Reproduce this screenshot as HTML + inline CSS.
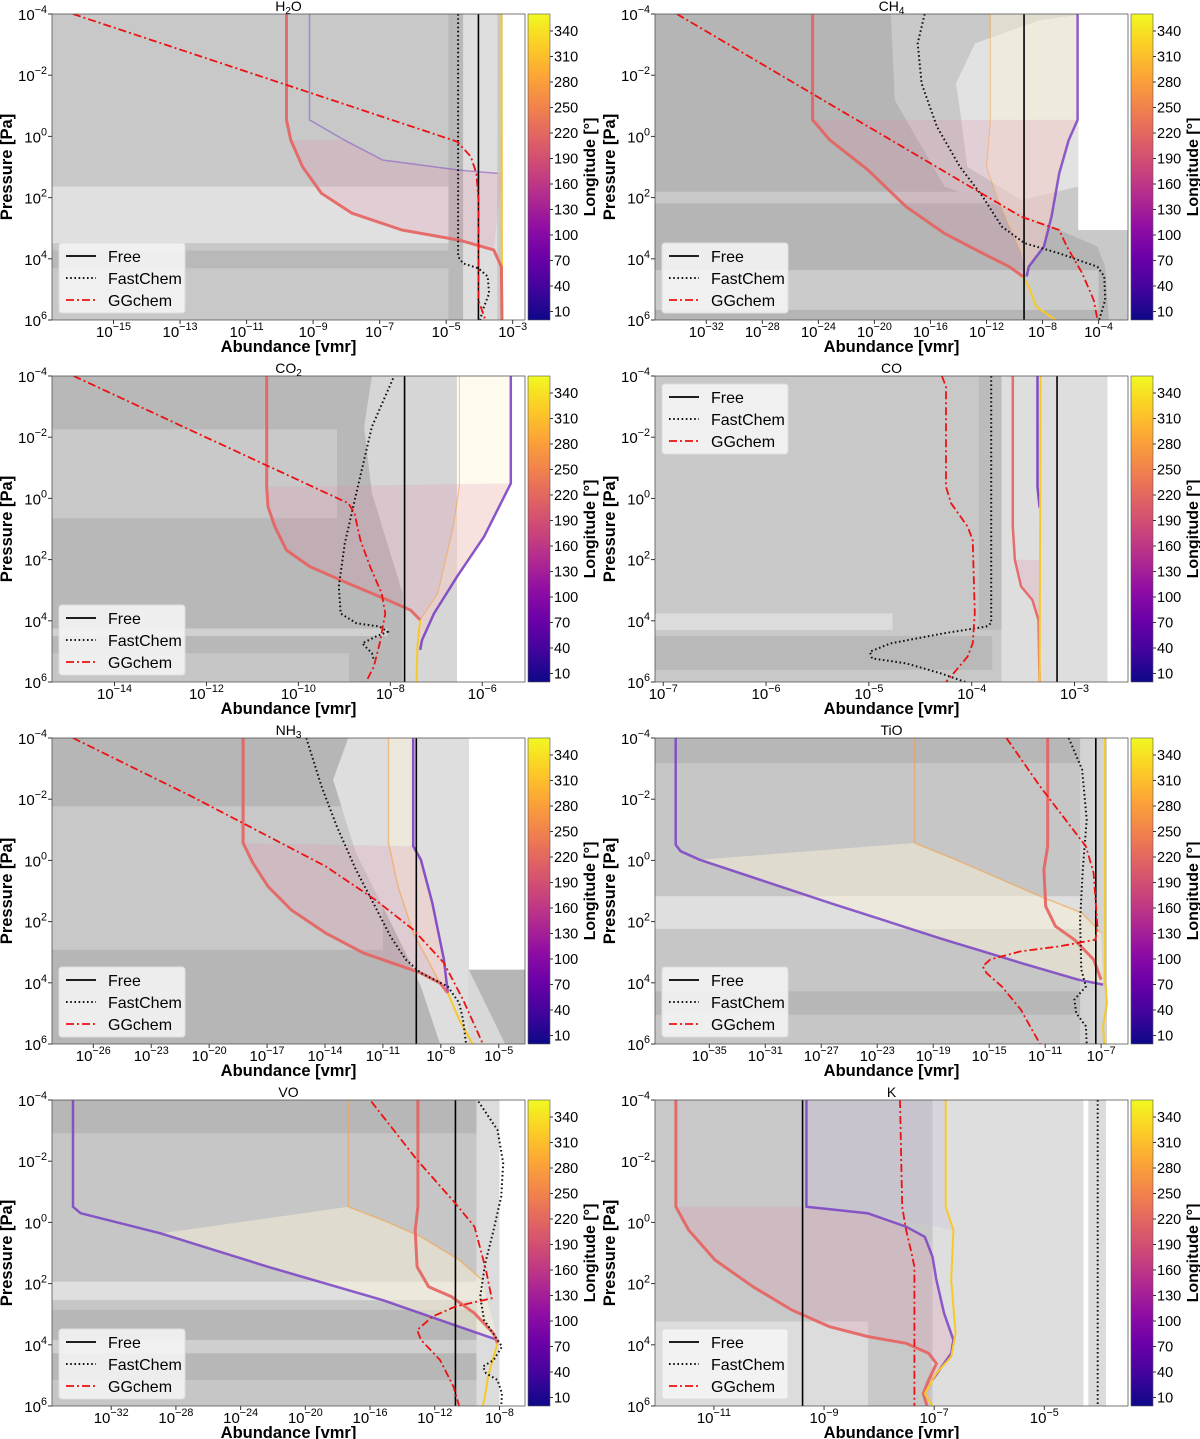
<!DOCTYPE html>
<html><head><meta charset="utf-8"><style>
html,body{margin:0;padding:0;background:#fff;}
svg{display:block;font-family:"Liberation Sans","DejaVu Sans",sans-serif;}
</style></head><body>
<svg id="fig" xmlns="http://www.w3.org/2000/svg" width="1200" height="1439" viewBox="0 0 1200 1439">
<defs>
<linearGradient id="plasma" x1="0" y1="1" x2="0" y2="0">
<stop offset="0" stop-color="#0d0887"/><stop offset="0.1" stop-color="#41049d"/><stop offset="0.2" stop-color="#6a00a8"/><stop offset="0.3" stop-color="#8f0da4"/><stop offset="0.4" stop-color="#b12a90"/><stop offset="0.5" stop-color="#cc4778"/><stop offset="0.6" stop-color="#e16462"/><stop offset="0.7" stop-color="#f2844b"/><stop offset="0.8" stop-color="#fca636"/><stop offset="0.9" stop-color="#fcce25"/><stop offset="1" stop-color="#f0f921"/>
</linearGradient>
</defs>
</svg>
<script>
// ---------- data (log10 abundance, log10 pressure) ----------
const cbTicks = [10,40,70,100,130,160,190,220,250,280,310,340];
const yTicks = [-4,-2,0,2,4,6];

const h2oTicks = [-15,-13,-11,-9,-7,-5,-3];
const h2oFree = -4.03;
const h2oFast = [[-4.64,-4],[-4.64,3.93],[-4.49,4.15],[-4.03,4.31],[-3.75,4.58],[-3.71,5.13],[-3.9,5.67],[-3.98,6]];
const h2oGG = [[-16.22,-4],[-4.67,0.17],[-4.26,0.66],[-4.09,1.21],[-4.03,2.08],[-4.03,5.35],[-3.82,6]];
const h2oPink = [[-9.8,-4],[-9.8,-0.54],[-9.67,0.12],[-9.32,0.99],[-8.75,1.86],[-7.83,2.51],[-6.33,3.06],[-4.61,3.39],[-3.57,3.71],[-3.34,4.26],[-3.32,6]];
const h2oPurple = [[-9.11,-4],[-9.11,-0.54],[-8.06,0.12],[-6.91,0.77],[-4.61,1.1],[-3.45,1.21]];
const h2oYellow = [[-3.34,-4],[-3.32,6]];

const ch4Ticks = [-32,-28,-24,-20,-16,-12,-8,-4];
const ch4Free = -9.32;
const ch4Fast = [[-16.42,-4],[-16.91,-3.04],[-16.63,-1.73],[-15.54,-0.32],[-13.9,0.99],[-12.27,1.97],[-10.9,2.95],[-9.27,3.49],[-6.81,3.82],[-4.08,4.26],[-3.59,4.58],[-3.53,5.35],[-3.96,6]];
const ch4GG = [[-34.1,-4],[-9.54,2.62],[-6.81,3.06],[-6.26,3.6],[-5.17,4.47],[-4.35,5.35],[-4.08,6]];
const ch4Pink = [[-24.41,-4],[-24.41,-0.54],[-23.18,0.12],[-20.45,1.1],[-17.73,2.3],[-15.0,3.17],[-12.27,3.82],[-10.36,4.26],[-9.4,4.58]];
const ch4Yellow = [[-9.4,4.58],[-8.99,4.91],[-8.45,5.56],[-7.08,6]];
const ch4Purple = [[-5.5,-4],[-5.5,-0.54],[-6.13,0.12],[-6.81,1.21],[-7.36,2.62],[-7.9,3.6],[-8.99,4.26],[-9.13,4.58]];
const ch4Orange = [[-11.72,-4],[-11.72,-0.54],[-12.0,0.99],[-11.18,2.08],[-9.54,3.82]];

const co2Ticks = [-14,-12,-10,-8,-6];
const co2Free = -7.69;
const co2Fast = [[-7.94,-3.92],[-8.4,-2.34],[-8.74,-0.17],[-8.99,1.47],[-9.12,2.88],[-9.08,3.76],[-8.74,4.08],[-8.23,4.19],[-8.06,4.36],[-8.32,4.52],[-8.61,4.74],[-8.4,5.06],[-8.36,5.28]];
const co2GG = [[-14.89,-4],[-8.91,0.16],[-8.78,0.49],[-8.65,1.36],[-8.44,2.23],[-8.19,3.1],[-8.11,3.76],[-8.23,4.74],[-8.36,5.5],[-8.53,6]];
const co2Pink = [[-10.69,-4],[-10.69,-0.38],[-10.66,0.27],[-10.51,0.92],[-10.26,1.69],[-9.75,2.23],[-8.91,2.78],[-8.06,3.32],[-7.56,3.65],[-7.35,3.97]];
const co2Yellow = [[-6.5,-4],[-6.5,-0.38],[-6.63,0.92],[-6.97,3.1],[-7.35,3.97],[-7.41,4.85],[-7.43,6]];
const co2Purple = [[-5.38,-4],[-5.38,-0.49],[-5.96,1.25],[-6.55,2.56],[-7.05,3.76],[-7.31,4.63],[-7.35,4.95]];

const coTicks = [-7,-6,-5,-4,-3];
const coFree = -3.17;
const coFast = [[-3.81,-4],[-3.81,4.08],[-3.86,4.19],[-4.27,4.41],[-4.79,4.74],[-4.99,5.01],[-4.97,5.23],[-4.64,5.39],[-4.3,5.72],[-4.06,6]];
const coGG = [[-4.29,-4],[-4.25,-3.65],[-4.25,-0.38],[-4.2,0.16],[-4.04,0.92],[-3.99,1.36],[-3.97,3.76],[-3.99,4.74],[-4.04,5.17],[-4.15,5.61],[-4.25,6]];
const coPink = [[-3.6,-4],[-3.6,0.92],[-3.58,2.01],[-3.52,2.88],[-3.41,3.32],[-3.35,3.97],[-3.34,6]];
const coPurple = [[-3.36,-4],[-3.36,-0.38],[-3.34,0.3]];
const coYellow = [[-3.33,-4],[-3.34,6]];

const nh3Ticks = [-26,-23,-20,-17,-14,-11,-8,-5];
const nh3Free = -9.27;
const nh3Fast = [[-14.97,-4],[-14.18,-2.42],[-13.39,-1.11],[-12.4,0.3],[-11.41,1.5],[-10.61,2.48],[-9.82,3.24],[-9.03,3.68],[-7.64,4.12],[-7.05,4.66],[-6.85,5.2],[-6.69,6]];
const nh3GG = [[-27.05,-4],[-20.91,-2.09],[-16.95,-0.79],[-13.98,0.19],[-11.41,1.28],[-9.43,2.26],[-7.84,3.35],[-6.85,4.55],[-5.82,6]];
const nh3Pink = [[-18.24,-4],[-18.24,-0.57],[-17.74,0.08],[-16.95,0.85],[-15.76,1.61],[-13.98,2.37],[-12.0,3.03],[-10.02,3.46],[-9.03,3.68],[-8.04,4.01],[-7.64,4.33]];
const nh3Yellow = [[-7.64,4.33],[-7.05,5.2],[-6.36,6]];
const nh3Purple = [[-9.43,-4],[-9.43,-0.46],[-9.03,-0.02],[-8.44,1.39],[-7.84,3.24],[-7.64,4.33]];
const nh3Orange = [[-10.71,-4],[-10.71,-0.57],[-10.22,0.85],[-9.43,2.37],[-8.04,4.01]];

const tioTicks = [-35,-31,-27,-23,-19,-15,-11,-7];
const tioFree = -7.38;
const tioFast = [[-9.32,-4],[-8.36,-2.97],[-8.03,-1.33],[-8.31,0.3],[-8.5,1.94],[-8.42,3.57],[-8.09,4.12],[-8.91,4.55],[-8.78,4.99],[-8.09,5.42],[-8.03,6]];
const tioGG = [[-13.77,-4],[-11.37,-2.42],[-9.18,-1.11],[-8.09,-0.46],[-7.54,0.41],[-7.27,2.15],[-7.41,2.59],[-10.0,2.81],[-12.73,2.97],[-14.92,3.24],[-15.46,3.46],[-15.19,3.68],[-14.1,4.12],[-12.73,4.88],[-11.37,6]];
const tioPurple = [[-37.4,-4],[-37.4,-0.51],[-37.05,-0.3],[-35.68,-0.02],[-26.39,1.39],[-18.2,2.59],[-12.73,3.35],[-8.63,3.9],[-6.86,4.06]];
const tioOrange = [[-20.33,-4],[-20.33,-0.57],[-17.38,-0.02],[-14.1,0.63],[-11.37,1.17],[-8.36,1.72],[-7.0,2.37]];
const tioPink = [[-10.82,-4],[-10.82,-0.46],[-11.09,0.3],[-10.96,1.5],[-10.27,2.15],[-8.91,2.59],[-7.54,3.24],[-7.0,3.9]];
const tioYellow = [[-6.72,-4],[-6.72,3.9],[-6.58,4.66],[-6.86,5.42],[-6.78,6]];

const voTicks = [-32,-28,-24,-20,-16,-12,-8];
const voFree = -10.72;
const voFast = [[-9.3,-3.95],[-8.12,-3.02],[-7.77,-1.93],[-7.89,-0.84],[-8.36,0.25],[-8.88,1.34],[-9.19,2.43],[-8.95,3.19],[-8.12,3.84],[-7.84,4.06],[-8.36,4.5],[-9.02,4.71],[-8.83,4.93],[-8.12,5.15],[-7.84,5.59],[-7.89,6]];
const voGG = [[-15.92,-3.95],[-13.09,-2.04],[-10.72,-0.62],[-9.54,0.14],[-8.83,1.56],[-8.48,2.48],[-10.72,2.75],[-12.14,3.08],[-13.09,3.52],[-12.85,3.84],[-11.67,4.5],[-10.84,5.37],[-10.49,6]];
const voPurple = [[-34.36,-4],[-34.36,-0.51],[-33.89,-0.3],[-28.93,0.36],[-22.31,1.45],[-15.22,2.54],[-10.49,3.41],[-8.12,3.84]];
const voOrange = [[-17.34,-4],[-17.34,-0.51],[-15.22,-0.08],[-12.85,0.47],[-10.49,1.23],[-9.07,1.88]];
const voPink = [[-13.04,-4],[-13.04,-0.51],[-13.21,0.25],[-13.09,1.45],[-12.38,2.1],[-10.96,2.43],[-9.54,2.97],[-8.36,3.63],[-8.12,3.95]];
const voYellow = [[-8.12,3.95],[-8.36,4.39],[-8.71,5.04],[-8.83,5.48],[-9.02,6]];

const kTicks = [-11,-9,-7,-5];
const kFree = -9.39;
const kFast = [[-4.03,-4],[-4.03,6]];
const kGG = [[-7.62,-4],[-7.58,-0.51],[-7.51,0.25],[-7.41,1.01],[-7.36,1.45],[-7.36,6]];
const kPink = [[-11.69,-4],[-11.69,-0.51],[-11.46,0.25],[-10.98,1.23],[-10.29,2.1],[-9.59,2.86],[-8.9,3.41],[-8.21,3.73],[-7.51,3.95],[-7.1,4.28],[-6.96,4.61],[-7.1,5.15],[-7.2,5.59],[-7.13,6]];
const kPurple = [[-9.32,-4],[-9.32,-0.51],[-8.21,-0.3],[-7.51,0.14],[-7.17,0.47],[-7.03,1.12],[-6.96,1.88],[-6.82,2.97],[-6.65,3.84],[-6.69,4.28],[-6.86,4.71],[-7.03,5.15]];
const kYellow = [[-6.79,-4],[-6.79,-0.51],[-6.65,0.25],[-6.69,1.88],[-6.61,3.62],[-6.69,4.39],[-6.96,4.93],[-7.17,5.59],[-7.03,6]];

// ---------- layout & style ----------
const NS = 'http://www.w3.org/2000/svg';
const svg = document.getElementById('fig');
const COLX = [52, 655], PW = 473, PH = 306, ROWY = [14, 376, 738, 1100];
const C = {pink:'#e5625f', purple:'#7438c4', yellow:'#f7c928', orange:'#f4a24a'};
const LP = 'rgba(228,140,175,0.22)', CR = 'rgba(252,244,214,0.45)';

function rev(a){return a.slice().reverse();}
const panels = [
 {name:'h2o', title:['H','2','O'], col:0,row:0, xr:[-16.85,-2.63], ticks:h2oTicks, free:h2oFree, fast:h2oFast, gg:h2oGG, legTop:false, base:'#c8c8c8',
  bg:[[-99,-4.84,1.64,3.49,'#e0e0e0'],[-99,-4.9,3.73,4.31,'#b9b9b9'],[-4.93,-4.49,-4,6,'#b9b9b9'],[-4.49,-3.46,-4,6,'#dedede'],[-3.3,99,-4,6,'#ffffff']],
  fills:[[h2oPink.slice(2,9).concat([[-3.3,1.2],[-4.61,1.1],[-6.91,0.77],[-8.06,0.12]]),LP]],
  lines:[[h2oPurple,C.purple,1.5,0.45],[h2oYellow,C.yellow,2,1],[h2oPink,C.pink,3,0.9]]},
 {name:'ch4', title:['CH','4',''], col:1,row:0, xr:[-35.66,-1.9], ticks:ch4Ticks, free:ch4Free, fast:ch4Fast, gg:ch4GG, legTop:false, base:'#b5b5b5',
  bg:[[-99,-9,1.81,2.19,'#c8c8c8'],[-99,-4,4.37,5.67,'#cbcbcb']],
  polys:[[[[-18.82,-4],[-1.9,-4],[-1.9,6],[-3.26,6],[-3.53,4.26],[-4.08,3.6],[-9.54,2.51],[-14.99,1.64],[-18.55,-1.19]],'#c9c9c9'],
         [[[-14.18,-1.73],[-12.81,-3.04],[-8.17,-3.8],[-5.45,-3.97],[-5.45,1.64],[-9.54,2.08],[-13.36,0.99],[-13.9,-0.87]],'#e2e2e2']],
  bg2:[[-5.45,99,-4,3.06,'#ffffff']],
  fills:[[ch4Orange.concat(rev(ch4Purple)),CR],[ch4Pink.slice(1).concat(rev(ch4Purple.slice(1))),LP]],
  lines:[[ch4Orange,C.orange,1.2,0.5],[ch4Purple,C.purple,2.5,0.8],[ch4Pink,C.pink,3,0.9],[ch4Yellow,C.yellow,2,1]]},
 {name:'co2', title:['CO','2',''], col:0,row:1, xr:[-15.36,-5.07], ticks:co2Ticks, free:co2Free, fast:co2Fast, gg:co2GG, legTop:false, base:'#b8b8b8',
  bg:[[-99,-9.16,-2.26,0.65,'#c9c9c9'],[-99,-8.06,4.25,4.5,'#d0d0d0'],[-99,-8.9,5.06,6,'#c6c6c6']],
  polys:[[[[-8.4,-4],[-6.55,-4],[-6.55,6],[-7.73,6],[-7.73,3.1],[-8.4,-0.17],[-8.57,-2.34]],'#d6d6d6']],
  bg2:[[-6.55,99,-4,6,'#ffffff']],
  fills:[[co2Yellow.slice(0,5).concat(rev(co2Purple)),CR],[co2Pink.slice(1).concat(rev(co2Purple.slice(1))),LP]],
  lines:[[co2Yellow.slice(0,5),C.orange,1.2,0.6],[co2Purple,C.purple,2.5,0.85],[co2Pink,C.pink,3,0.9],[co2Yellow.slice(4),C.yellow,2,1]]},
 {name:'co', title:['CO','',''], col:1,row:1, xr:[-7.08,-2.48], ticks:coTicks, free:coFree, fast:coFast, gg:coGG, legTop:true, base:'#c8c8c8',
  bg:[[-3.93,-3.71,-4,4.3,'#bcbcbc'],[-3.71,-2.68,-4,6,'#dedede'],[-2.68,99,-4,6,'#ffffff'],[-99,-4.77,3.76,4.3,'#dcdcdc'],[-99,-3.8,4.5,5.6,'#b9b9b9']],
  fills:[[coPink.slice(2).concat([[-3.34,2.01]]),LP]],
  lines:[[coPink,C.pink,2.5,0.9],[coPurple,C.purple,2.5,0.9],[coYellow,C.yellow,2,1]]},
 {name:'nh3', title:['NH','3',''], col:0,row:2, xr:[-28.14,-3.64], ticks:nh3Ticks, free:nh3Free, fast:nh3Fast, gg:nh3GG, legTop:false, base:'#b6b6b6',
  bg:[[-99,-11.0,-1.77,2.92,'#c8c8c8']],
  polys:[[[[-12.79,-4],[-6.55,-4],[-6.55,6],[-8.04,6],[-9.03,4.12],[-9.82,3.03],[-11.01,1.5],[-12.4,-0.24],[-13.58,-2.64]],'#dedede'],
         [[[-6.55,3.57],[-4.67,6],[-6.55,6]],'#d8d8d8']],
  bg2:[[-6.55,99,-4,3.57,'#ffffff']],
  fills:[[nh3Orange.concat(rev(nh3Purple)),CR],[nh3Pink.slice(1).concat(rev(nh3Purple.slice(1))),LP]],
  lines:[[nh3Orange,C.orange,1.5,0.6],[nh3Purple,C.purple,2.5,0.85],[nh3Pink,C.pink,3,0.9],[nh3Yellow,C.yellow,2,1]]},
 {name:'tio', title:['TiO','',''], col:1,row:2, xr:[-38.88,-5.08], ticks:tioTicks, free:tioFree, fast:tioFast, gg:tioGG, legTop:false, base:'#c6c6c6',
  bg:[[-99,99,-4,-3.18,'#b7b7b7'],[-99,-7.0,1.17,2.24,'#dfdfdf'],[-99,99,4.28,5.04,'#b7b7b7'],[-8.5,-6.58,-4,6,'#d3d3d3'],[-6.58,99,-4,6,'#ffffff']],
  fills:[[tioPurple.slice(3).concat(rev(tioOrange.slice(1))),CR]],
  lines:[[tioOrange,C.orange,1.5,0.6],[tioPurple,C.purple,2.5,0.8],[tioPink,C.pink,3,0.9],[tioYellow,C.yellow,2,1]]},
 {name:'vo', title:['VO','',''], col:0,row:3, xr:[-35.66,-6.42], ticks:voTicks, free:voFree, fast:voFast, gg:voGG, legTop:false, base:'#c6c6c6',
  bg:[[-99,99,-4,-2.91,'#b7b7b7'],[-99,-9.4,1.94,2.54,'#dfdfdf'],[-99,99,2.86,3.84,'#b7b7b7'],[-99,99,3.84,4.28,'#cfcfcf'],[-99,99,4.28,5.15,'#b7b7b7'],[-9.42,-8.0,-4,6,'#dcdcdc'],[-8.0,99,-4,6,'#ffffff']],
  fills:[[voPurple.slice(3).concat(rev(voOrange.slice(1))),CR]],
  lines:[[voOrange,C.orange,1.5,0.6],[voPurple,C.purple,2.5,0.8],[voPink,C.pink,3,0.9],[voYellow,C.yellow,2,1]]},
 {name:'k', title:['K','',''], col:1,row:3, xr:[-12.07,-3.48], ticks:kTicks, free:kFree, fast:kFast, gg:kGG, legTop:false, base:'#c8c8c8',
  bg:[[-7.03,-4.29,-4,6,'#dedede'],[-99,-8.2,3.24,6,'#dcdcdc'],[-4.29,99,-4,6,'#ffffff'],[-4.2,-3.88,-4,6,'#dcdcdc']],
  fills:[[kPink.slice(1).concat(rev(kPurple.slice(1))),LP],[kPurple.slice(0,3).concat(rev(kYellow.slice(0,3))),'rgba(200,185,225,0.25)']],
  lines:[[kPurple,C.purple,2.5,0.8],[kPink,C.pink,3,0.9],[kYellow,C.yellow,2,1]]}
];

function el(tag, attrs, parent){const e=document.createElementNS(NS,tag);for(const k in attrs)e.setAttribute(k,attrs[k]);(parent||svg).appendChild(e);return e;}
function supText(parent,x,y,exp,anchor,size){
  const t=el('text',{x:x,y:y,'text-anchor':anchor,'font-size':size,fill:'#000'},parent);
  t.appendChild(document.createTextNode('10'));
  const s=el('tspan',{dy:-7,'font-size':size*0.72},t);
  s.textContent=String(exp).replace('-','\u2212');
  return t;
}

panels.forEach(p=>{
  const x0=COLX[p.col], y0=ROWY[p.row];
  const X=v=>x0+(v-p.xr[0])/(p.xr[1]-p.xr[0])*PW;
  const Y=v=>y0+(v+4)/10*PH;
  const pts=a=>a.map(d=>X(d[0]).toFixed(1)+','+Y(d[1]).toFixed(1)).join(' ');
  const g=el('g',{});
  
  
  const cid='clip-'+p.name;
  const cp=el('clipPath',{id:cid},g); el('rect',{x:x0,y:y0,width:PW,height:PH},cp);
  const plot=el('g',{'clip-path':'url(#'+cid+')'},g);
  
  
  el('rect',{x:x0,y:y0,width:PW,height:PH,fill:p.base},plot);
  const rect=r=>{const a=Math.max(r[0],p.xr[0]),b=Math.min(r[1],p.xr[1]);
    const rr=el('rect',{x:X(a),y:Y(r[2]),width:Math.max(0,X(b)-X(a)),height:Y(r[3])-Y(r[2]),fill:r[4]},plot);
    
    };
  (p.bg||[]).forEach(rect);
  (p.polys||[]).forEach(q=>{const e=el('polygon',{points:pts(q[0]),fill:q[1]},plot);
    
    });
  (p.bg2||[]).forEach(rect);
  (p.fills||[]).forEach(f=>{const e=el('polygon',{points:pts(f[0]),fill:f[1]},plot);
    
    });
  p.lines.forEach(l=>{const e=el('polyline',{points:pts(l[0]),fill:'none',stroke:l[1],'stroke-width':l[2],'stroke-opacity':l[3],'stroke-linejoin':'round'},plot);
    
    });
  const fr=el('line',{x1:X(p.free),x2:X(p.free),y1:y0,y2:y0+PH,stroke:'#000','stroke-width':1.6},plot);
  
  
  const fc=el('polyline',{points:pts(p.fast),fill:'none',stroke:'#111','stroke-width':2,'stroke-dasharray':'1.6,2.6'},plot);
  
  
  const gg=el('polyline',{points:pts(p.gg),fill:'none',stroke:'#ee1111','stroke-width':1.8,'stroke-dasharray':'8,3,2,3'},plot);
  
  
  el('rect',{x:x0,y:y0,width:PW,height:PH,fill:'none',stroke:'#555','stroke-width':0.8},g);
  // title
  const tt=el('text',{x:x0+PW/2,y:y0-3,'text-anchor':'middle','font-size':14},g);
  
  
  tt.appendChild(document.createTextNode(p.title[0]));
  if(p.title[1]){const s=el('tspan',{dy:3,'font-size':10},tt);s.textContent=p.title[1];}
  if(p.title[2]){const s=el('tspan',{dy:-3},tt);s.textContent=p.title[2];}
  // y ticks
  yTicks.forEach(v=>{el('line',{x1:x0-4,x2:x0,y1:Y(v),y2:Y(v),stroke:'#333'},g);
    const t=supText(g,x0-5,Y(v)+6,v,'end',15);
    
    });
  // x ticks
  p.ticks.forEach(v=>{el('line',{x1:X(v),x2:X(v),y1:y0+PH,y2:y0+PH+4,stroke:'#333'},g);
    const t=supText(g,X(v),y0+PH+17,v,'middle',15);
    
    });
  const xl=el('text',{x:x0+PW/2,y:y0+PH+32,'text-anchor':'middle','font-size':16.5,'font-weight':'bold'},g);
  xl.textContent='Abundance [vmr]';
  
  
  const yl=el('text',{x:0,y:0,'text-anchor':'middle','font-size':16.5,'font-weight':'bold',transform:'translate('+(x0-40)+','+(y0+PH/2)+') rotate(-90)'},g);
  yl.textContent='Pressure [Pa]';
  
  
  // colorbar
  const cx=x0+PW+3, cw=22;
  const cb=el('rect',{x:cx,y:y0,width:cw,height:PH,fill:'url(#plasma)',stroke:'#555','stroke-width':0.6},g);
  
  
  cbTicks.forEach(v=>{const yy=y0+PH-v/360*PH;
    el('line',{x1:cx+cw,x2:cx+cw+3,y1:yy,y2:yy,stroke:'#333'},g);
    const t=el('text',{x:cx+cw+4,y:yy+5,'font-size':14.5},g);t.textContent=v;
    
    });
  const cl=el('text',{x:0,y:0,'text-anchor':'middle','font-size':16,'font-weight':'bold',transform:'translate('+(cx+cw+45)+','+(y0+PH/2)+') rotate(-90)'},g);
  cl.textContent='Longitude [\u00b0]';
  
  
  // legend
  const lx=x0+7, ly=p.legTop? y0+8 : y0+PH-77;
  const lg=el('g',{},g);
  
  
  el('rect',{x:lx,y:ly,width:126,height:70,rx:3,fill:'rgba(245,245,245,0.88)',stroke:'#ddd'},lg);
  const ent=[['Free','none','#000'],['FastChem','1.6,2.6','#111'],['GGchem','8,3,2,3','#ee1111']];
  ent.forEach((e,i)=>{const yy=ly+13+i*22;
    const ge=el('g',{},lg);
    
    
    const a={x1:lx+7,x2:lx+37,y1:yy,y2:yy,stroke:e[2],'stroke-width':i==1?2:1.8};
    if(e[1]!=='none')a['stroke-dasharray']=e[1];
    el('line',a,ge);
    const t=el('text',{x:lx+49,y:yy+6,'font-size':16},ge);t.textContent=e[0];});
});
</script>
</body></html>
